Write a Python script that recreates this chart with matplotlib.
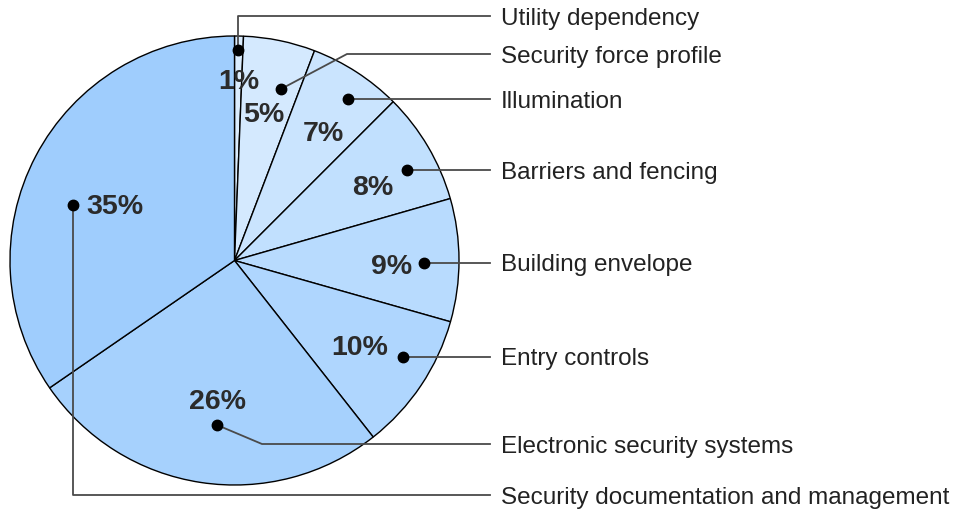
import numpy as np
from matplotlib import pyplot as plt

# slice shares (percent), read clockwise from 12 o'clock
categories = ["Utility dependency", "Security force profile", "Illumination",
              "Barriers and fencing", "Building envelope", "Entry controls",
              "Electronic security systems", "Security documentation and management"]
shares = [0.64, 5.16, 6.7, 8.05, 8.85, 10.0, 26.0, 34.6]
pct_labels = ["%d%%" % round(v) for v in shares]

colors = ["#dbedfe", "#d4e9fe", "#cae4fe", "#c1e0fe",
          "#b8dbfe", "#afd6fe", "#a6d1fd", "#9fcdfd"]

W, H = 965, 510
fig = plt.figure(figsize=(W / 100, H / 100), dpi=100)
ax = fig.add_axes([0, 0, 1, 1])

cx, cy, R = 234.5, H - 261.5, 224.5
ax.pie(shares, colors=colors, startangle=90, counterclock=False,
       center=(cx, cy), radius=R, frame=True,
       wedgeprops=dict(edgecolor="black", linewidth=1.0))
ax.set_xlim(0, W)
ax.set_ylim(0, H)
ax.set_aspect("equal")
ax.axis("off")

# callout layout in pixel coords (y from top): dot, elbow, label row y, percent text centre
dots = [(238, 51), (281, 90), (348, 100), (407, 171), (424, 264), (403, 358), (217, 426), (73, 206)]
elbows = [(238, 17), (347, 55), None, None, None, None, (262, 445), (73, 496)]
rows = [17, 55, 99, 170, 263, 357, 445, 496]
pct_pos = [(239, 79), (264, 112), (323, 131), (373, 185), (392, 264), (360, 345), (218, 399), (115, 204)]

line_end = 490
text_x = 501
for i, name in enumerate(categories):
    dx, dy = dots[i]
    xs = [dx]
    ys = [dy]
    if elbows[i] is not None:
        xs.append(elbows[i][0])
        ys.append(elbows[i][1])
        ys_end = elbows[i][1]
    else:
        ys_end = dy
    xs.append(line_end)
    ys.append(ys_end)
    ax.plot(xs, [H - y for y in ys], color="#4a4a4a", linewidth=1.3, zorder=3)
    ax.plot(dx, H - dy, "o", color="black", markersize=7.5, zorder=4)
    ax.text(text_x, H - rows[i], name, fontsize=17.5, family="Liberation Sans",
            color="#222222", ha="left", va="center_baseline")
    px, py = pct_pos[i]
    ax.text(px, H - py, pct_labels[i], fontsize=20.5, family="Liberation Sans",
            fontweight="bold", color="#2b2b2b", ha="center", va="center_baseline", zorder=5)

plt.savefig("out.png", dpi=100)
